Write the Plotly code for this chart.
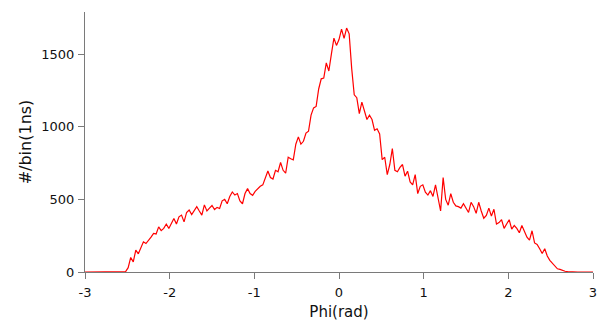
import plotly.graph_objects as go

# Histogram of Phi, bins of 0.03 rad starting at -3 rad
BIN_START = -3.0
BIN_WIDTH = 0.03
counts = [
    0, 0, 0, 0, 0, 0, 0, 0, 0, 0,
    0, 0, 0, 0, 0, 0, 3, 30, 100, 70,
    150, 125, 170, 208, 196, 215, 240, 266, 262, 311,
    285, 300, 330, 300, 340, 368, 330, 380, 392, 345,
    410, 427, 395, 420, 450, 420, 392, 462, 420, 440,
    458, 430, 445, 437, 490, 500, 470, 520, 551, 530,
    540, 490, 470, 540, 574, 540, 528, 555, 575, 590,
    600, 650, 695, 650, 640, 700, 690, 754, 700, 680,
    790, 780, 772, 880, 930, 880, 900, 957, 970, 1080,
    1130, 1140, 1260, 1330, 1335, 1440, 1384, 1500, 1610, 1560,
    1600, 1672, 1608, 1679, 1640, 1400, 1220, 1200, 1090, 1170,
    1100, 1050, 1080, 1050, 975, 986, 950, 774, 790, 670,
    740, 850, 700, 690, 720, 740, 660, 694, 620, 600,
    670, 540, 590, 600, 550, 530, 560, 520, 600, 500,
    420, 650, 500, 460, 540, 480, 455, 450, 440, 470,
    440, 410, 480, 450, 404, 480, 420, 370, 390, 440,
    385, 432, 330, 340, 360, 300, 330, 360, 295, 320,
    300, 270, 320, 280, 240, 220, 284, 200, 190, 160,
    127, 160, 110, 80, 62, 40, 22, 18, 10, 5,
    3, 1, 0, 0, 0, 0, 0, 0, 0, 0, 0,
]

X_TICKS = [-3, -2, -1, 0, 1, 2, 3]
X_TICK_LABELS = ["-3", "-2", "-1", "0", "1", "2", "3"]
Y_TICKS = [0, 500, 1000, 1500]

FONT = "DejaVu Sans"

fig = go.Figure()
fig.add_trace(go.Scatter(
    y=counts, x0=BIN_START, dx=BIN_WIDTH, mode="lines",
    line=dict(color="#ff0000", width=1.2), showlegend=False,
))

axis_common = dict(
    showgrid=False, zeroline=False, showline=True, linecolor="#7a7a7a",
    linewidth=1, ticks="outside", tickcolor="#7a7a7a", ticklen=6,
    tickfont=dict(family=FONT, size=13, color="#111"),
    ticklabeloverflow="allow",
)
fig.update_layout(
    width=600, height=321,
    margin=dict(l=85, r=3, t=12, b=49),
    paper_bgcolor="white", plot_bgcolor="white",
    xaxis=dict(range=[-3, 3], tickvals=X_TICKS, ticktext=X_TICK_LABELS,
               ticklabelstandoff=2, **axis_common,
               title=dict(text="Phi(rad)", standoff=8,
                          font=dict(family=FONT, size=15, color="#111"))),
    yaxis=dict(range=[0, 1790], tickvals=Y_TICKS, ticklabelstandoff=1,
               **axis_common,
               title=dict(text="#/bin(1ns)", standoff=5,
                          font=dict(family=FONT, size=16, color="#111"))),
)
fig.write_html("out.html")
